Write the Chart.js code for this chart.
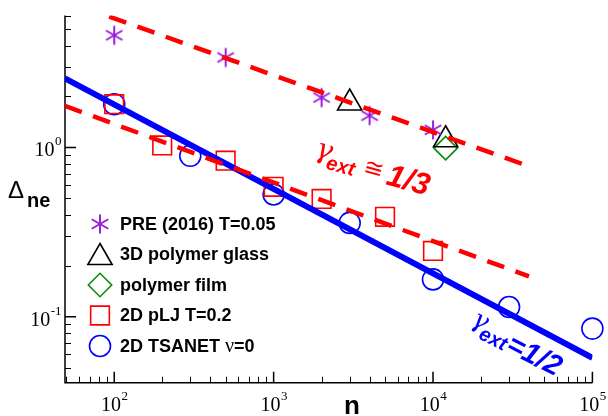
<!DOCTYPE html>
<html lang="en">
<head>
    <meta charset="UTF-8">
    <title>Delta_ne vs n</title>
    <script src="https://cdn.jsdelivr.net/npm/chart.js"></script>
    <style>
        html, body { margin: 0; padding: 0; background: #fff; }
        #wrap { width: 608px; height: 416px; }
    </style>
</head>
<body>
    <div id="wrap"><canvas id="chart" width="608" height="416"></canvas></div>

    <script>
        // data
        const preN = [100, 500, 2000, 4000, 10000];
        const preD = [4.6, 3.4, 1.97, 1.54, 1.27];
        const glassN = [3000, 12000];
        const glassD = [1.83, 1.11];
        const filmN = [12000];
        const filmD = [0.99];
        const pljN = [100, 200, 500, 1000, 2000, 5000, 10000];
        const pljD = [1.80, 1.027, 0.835, 0.585, 0.496, 0.389, 0.2445];
        const tsaN = [100, 300, 1000, 3000, 10000, 30000, 100000];
        const tsaD = [1.80, 0.892, 0.527, 0.358, 0.166, 0.114, 0.085];

        // guide lines (end points)
        const fitHalfN = [49, 100000];
        const fitHalfD = [2.56, 0.057];
        const fitThirdLowN = [49, 40000];
        const fitThirdLowD = [1.76, 0.173];
        const fitThirdHighN = [93, 40000];
        const fitThirdHighD = [5.93, 0.773];

        // axis ticks
        const xMajor = [100, 1000, 10000, 100000];
        const xMajorExp = ['2', '3', '4', '5'];
        const yMajor = [0.1, 1];
        const yMajorExp = ['-1', '0'];
        const xDecades = [10, 100, 1000, 10000];
        const yDecades = [0.01, 0.1, 1];
        const minorSteps = [2, 3, 4, 5, 6, 7, 8, 9];

        const legendLabels = ['PRE (2016) T=0.05', '3D polymer glass', 'polymer film', '2D pLJ T=0.2', '2D TSANET '];

        const PURPLE = '#9a1fe0';
        const GREEN = '#0a8a0a';

        // six-armed asterisk marker
        function makeStar(color) {
            const c = document.createElement('canvas');
            c.width = 22; c.height = 22;
            const g = c.getContext('2d');
            g.strokeStyle = color;
            g.lineWidth = 2;
            g.lineCap = 'butt';
            const r = 9.5;
            for (let k = 0; k < 3; k++) {
                const a = Math.PI / 2 + k * Math.PI / 3;
                g.beginPath();
                g.moveTo(11 - Math.cos(a) * r, 11 - Math.sin(a) * r);
                g.lineTo(11 + Math.cos(a) * r, 11 + Math.sin(a) * r);
                g.stroke();
            }
            return c;
        }
        const starImg = makeStar(PURPLE);

        const pts = (xs, ys) => xs.map((v, i) => ({ x: v, y: ys[i] }));

        const markerStyles = [
            { pointStyle: starImg, radius: 10, borderColor: PURPLE, borderWidth: 2 },
            { pointStyle: 'triangle', radius: 14, borderColor: '#000', borderWidth: 1.6 },
            { pointStyle: 'rectRot', radius: 11.7, borderColor: GREEN, borderWidth: 1.6 },
            { pointStyle: 'rect', radius: 13.2, borderColor: '#ff0000', borderWidth: 1.6 },
            { pointStyle: 'circle', radius: 10.5, borderColor: '#0000ff', borderWidth: 1.6 }
        ];

        function scatterSet(label, xs, ys, m) {
            return {
                type: 'scatter',
                label: label,
                data: pts(xs, ys),
                pointStyle: m.pointStyle,
                pointRadius: m.radius,
                pointHoverRadius: m.radius,
                pointBorderColor: m.borderColor,
                pointBackgroundColor: 'rgba(0,0,0,0)',
                pointBorderWidth: m.borderWidth,
                showLine: false,
                clip: false,
                order: 2
            };
        }

        function lineSet(xs, ys, color, width, dash) {
            return {
                type: 'line',
                data: pts(xs, ys),
                borderColor: color,
                borderWidth: width,
                borderDash: dash,
                borderCapStyle: 'butt',
                pointRadius: 0,
                fill: false,
                tension: 0,
                order: 1
            };
        }

        function drawPow(ctx, exp, x, y, align) {
            ctx.font = '20px "Liberation Serif"';
            const wb = ctx.measureText('10').width;
            ctx.font = '13px "Liberation Serif"';
            const we = ctx.measureText(exp).width;
            let x0 = align === 'center' ? x - (wb + we) / 2 : x - wb - we;
            ctx.textAlign = 'left';
            ctx.textBaseline = 'alphabetic';
            ctx.font = '20px "Liberation Serif"';
            ctx.fillText('10', x0, y);
            ctx.font = '13px "Liberation Serif"';
            ctx.fillText(exp, x0 + wb + 0.5, y - 11);
        }

        const axesPlugin = {
            id: 'axes',
            beforeDatasetsDraw(chart) {
                const { ctx, chartArea: a, scales: { x, y } } = chart;
                ctx.save();
                ctx.strokeStyle = '#000';
                ctx.fillStyle = '#000';
                ctx.lineWidth = 1.5;
                ctx.beginPath();
                ctx.moveTo(a.left, a.top);
                ctx.lineTo(a.left, a.bottom);
                ctx.lineTo(a.right, a.bottom);
                ctx.stroke();

                ctx.lineWidth = 1;
                ctx.beginPath();
                xDecades.forEach(d => minorSteps.forEach(s => {
                    const v = d * s;
                    if (v < x.min || v > x.max) return;
                    const px = Math.round(x.getPixelForValue(v)) + 0.5;
                    ctx.moveTo(px, a.bottom); ctx.lineTo(px, a.bottom - 6);
                }));
                yDecades.forEach(d => minorSteps.forEach(s => {
                    const v = d * s;
                    if (v < y.min || v > y.max) return;
                    const py = Math.round(y.getPixelForValue(v)) + 0.5;
                    ctx.moveTo(a.left, py); ctx.lineTo(a.left + 6, py);
                }));
                ctx.stroke();

                ctx.lineWidth = 1.5;
                ctx.beginPath();
                xMajor.forEach(v => {
                    const px = x.getPixelForValue(v);
                    ctx.moveTo(px, a.bottom); ctx.lineTo(px, a.bottom - 11);
                });
                yMajor.forEach(v => {
                    const py = y.getPixelForValue(v);
                    ctx.moveTo(a.left, py); ctx.lineTo(a.left + 11, py);
                });
                ctx.stroke();

                xMajor.forEach((v, i) => drawPow(ctx, xMajorExp[i], x.getPixelForValue(v), 411, 'center'));
                yMajor.forEach((v, i) => drawPow(ctx, yMajorExp[i], 61, y.getPixelForValue(v) + 9, 'right'));

                // axis titles
                ctx.textAlign = 'left';
                ctx.font = '24px "Liberation Sans"';
                ctx.fillText('\u0394', 8, 198);
                ctx.font = 'bold 20px "Liberation Sans"';
                ctx.fillText('ne', 27, 207);
                ctx.font = 'bold 26px "Liberation Sans"';
                ctx.textAlign = 'center';
                ctx.fillText('n', 352, 414);
                ctx.restore();
            },
            afterDatasetsDraw(chart) {
                const { ctx } = chart;
                ctx.save();
                // legend
                const rows = [224, 254.5, 285, 315.5, 346];
                markerStyles.forEach((m, i) => {
                    ctx.strokeStyle = m.borderColor;
                    ctx.fillStyle = 'rgba(0,0,0,0)';
                    ctx.lineWidth = m.borderWidth;
                    Chart.helpers.drawPoint(ctx, {
                        pointStyle: m.pointStyle, radius: m.radius, rotation: 0, borderWidth: m.borderWidth
                    }, 100, rows[i] + (m.pointStyle === 'triangle' ? 3 : 0));
                    ctx.fillStyle = '#000';
                    ctx.textAlign = 'left';
                    ctx.textBaseline = 'middle';
                    ctx.font = 'bold 18px "Liberation Sans"';
                    ctx.fillText(legendLabels[i], 120, rows[i] + 1);
                    if (i === 4) {
                        let w = ctx.measureText(legendLabels[i]).width;
                        ctx.font = '20px "Liberation Serif"';
                        ctx.fillText('\u03bd', 120 + w, rows[i] + 1);
                        w += ctx.measureText('\u03bd').width;
                        ctx.font = 'bold 18px "Liberation Sans"';
                        ctx.fillText('=0', 120 + w, rows[i] + 1);
                    }
                });

                // slope annotations
                ctx.textBaseline = 'alphabetic';
                ctx.textAlign = 'left';
                ctx.fillStyle = '#ff0000';
                ctx.translate(314, 156);
                ctx.rotate(0.27);
                ctx.font = 'italic 28px "DejaVu Serif"';
                ctx.fillText('\u03b3', 0, 0);
                ctx.font = 'bold italic 20px "Liberation Sans"';
                ctx.fillText('ext', 14, 9);
                ctx.font = '24px "DejaVu Sans"';
                ctx.fillText('\u2245', 51, 4);
                ctx.font = 'bold italic 31px "Liberation Sans"';
                ctx.fillText('1/3', 76, 8);
                ctx.setTransform(1, 0, 0, 1, 0, 0);

                ctx.fillStyle = '#0000ff';
                ctx.translate(470, 324);
                ctx.rotate(0.47);
                ctx.font = 'italic 26px "DejaVu Serif"';
                ctx.fillText('\u03b3', 0, 0);
                ctx.font = 'bold italic 20px "Liberation Sans"';
                ctx.fillText('ext', 13, 9);
                ctx.font = 'bold italic 29px "Liberation Sans"';
                ctx.fillText('=1/2', 43, 8);
                ctx.restore();
            }
        };

        const ctx = document.getElementById('chart').getContext('2d');
        new Chart(ctx, {
            data: {
                datasets: [
                    lineSet(fitThirdHighN, fitThirdHighD, '#ff0000', 4.5, [18, 12]),
                    lineSet(fitThirdLowN, fitThirdLowD, '#ff0000', 4.5, [18, 12]),
                    lineSet(fitHalfN, fitHalfD, '#0000ff', 6, []),
                    scatterSet('PRE (2016) T=0.05', preN, preD, markerStyles[0]),
                    scatterSet('3D polymer glass', glassN, glassD, markerStyles[1]),
                    scatterSet('polymer film', filmN, filmD, markerStyles[2]),
                    scatterSet('2D pLJ T=0.2', pljN, pljD, markerStyles[3]),
                    scatterSet('2D TSANET v=0', tsaN, tsaD, markerStyles[4])
                ]
            },
            options: {
                responsive: false,
                animation: false,
                events: [],
                layout: { padding: { left: 65, right: 15.3, top: 10, bottom: 33.3 } },
                scales: {
                    x: { type: 'logarithmic', min: 49.1, max: 100000, display: false },
                    y: { type: 'logarithmic', min: 0.0407, max: 6.01, display: false }
                },
                plugins: {
                    legend: { display: false },
                    tooltip: { enabled: false }
                }
            },
            plugins: [axesPlugin]
        });
    </script>
</body>
</html>
